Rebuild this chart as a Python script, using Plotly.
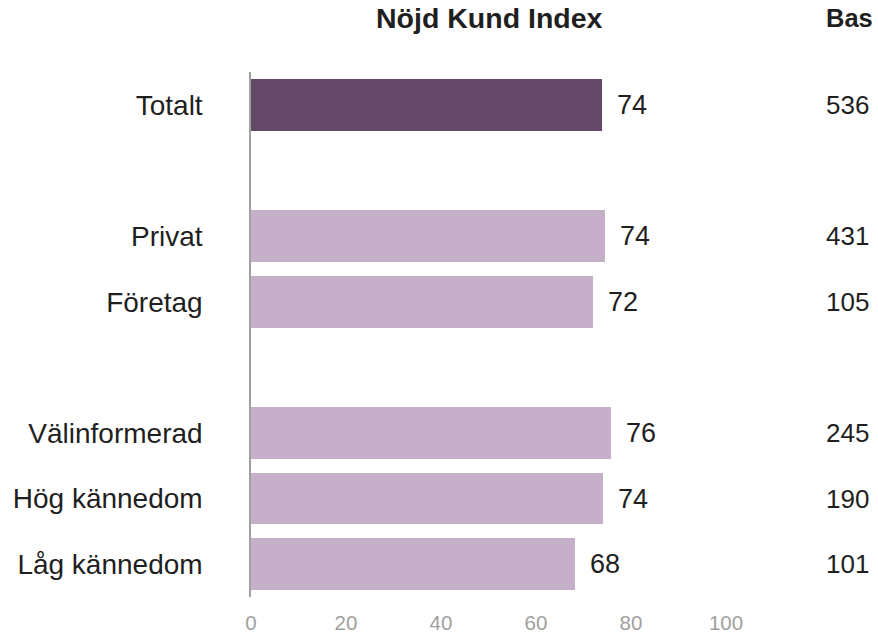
import plotly.graph_objects as go

# Rows (None = empty spacer row)
rows = ["Totalt", None, "Privat", "Företag", None, "Välinformerad", "Hög kännedom", "Låg kännedom"]
categories = ["Totalt", "Privat", "Företag", "Välinformerad", "Hög kännedom", "Låg kännedom"]
nki_values = [73.9, 74.5, 72.0, 75.8, 74.1, 68.3]
nki_labels = ["74", "74", "72", "76", "74", "68"]
bas_values = [536, 431, 105, 245, 190, 101]
x_ticks = [0, 20, 40, 60, 80, 100]

DARK = "#634867"
LIGHT = "#C6AFC9"
TEXT = "#1f1f1f"
FONT = "Liberation Sans, Arial, sans-serif"

pos = [rows.index(c) for c in categories]
colors = [DARK] + [LIGHT] * (len(categories) - 1)

fig = go.Figure()
fig.add_trace(go.Bar(
    x=nki_values, y=pos, orientation="h",
    marker=dict(color=colors, line=dict(width=0)),
    width=0.79, hoverinfo="skip",
))

annotations = []
for p, v, lab, b in zip(pos, nki_values, nki_labels, bas_values):
    annotations.append(dict(x=v, y=p, xref="x", yref="y", text=lab, showarrow=False,
                            xanchor="left", yanchor="middle", xshift=13,
                            font=dict(family=FONT, size=27, color=TEXT)))
    annotations.append(dict(x=1.206, y=p, xref="paper", yref="y", text=str(b), showarrow=False,
                            xanchor="left", yanchor="middle",
                            font=dict(family=FONT, size=26, color=TEXT)))

annotations.append(dict(x=0.503, y=1.102, xref="paper", yref="paper", text="<b>Nöjd Kund Index</b>",
                        showarrow=False, xanchor="center", yanchor="middle",
                        font=dict(family=FONT, size=28.5, color=TEXT)))
annotations.append(dict(x=1.206, y=1.102, xref="paper", yref="paper", text="<b>Bas</b>",
                        showarrow=False, xanchor="left", yanchor="middle",
                        font=dict(family=FONT, size=25.5, color=TEXT)))

fig.update_layout(
    width=878, height=633,
    margin=dict(l=251, r=152, t=72, b=36, autoexpand=False),
    paper_bgcolor="white", plot_bgcolor="white",
    showlegend=False,
    annotations=annotations,
    bargap=0,
    xaxis=dict(range=[0, 100], tickvals=x_ticks, showgrid=False, zeroline=False,
               showline=False, ticks="", ticklabelstandoff=11, automargin=False,
               tickfont=dict(family=FONT, size=20.5, color="#a0a0a0")),
    yaxis=dict(range=[len(rows) - 0.5, -0.5], tickvals=pos, ticktext=categories,
               showgrid=False, zeroline=False, showline=True, linecolor="#a0a0a0",
               linewidth=1.5, ticks="", ticklabelstandoff=41, automargin=False,
               tickfont=dict(family=FONT, size=28, color=TEXT)),
)

fig.write_html("out.html", config={"displayModeBar": False},
               post_script="document.body.style.margin='0';document.body.style.overflow='hidden';")
